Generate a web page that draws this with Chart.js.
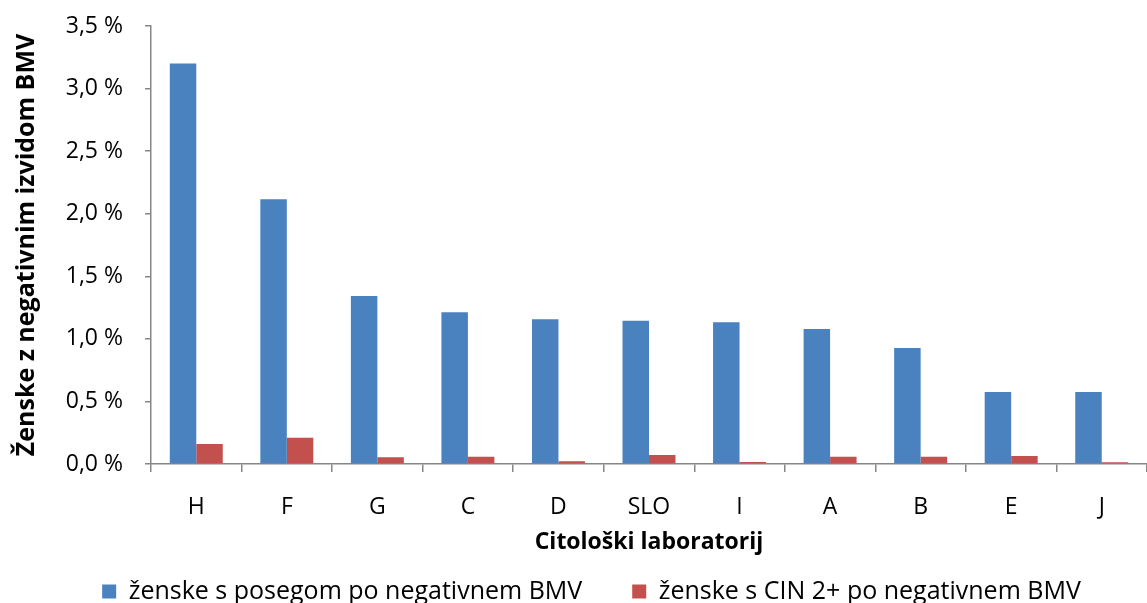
<!DOCTYPE html>
<html>
<head>
<meta charset="utf-8">
<script src="https://cdn.jsdelivr.net/npm/chart.js@4.4.1/dist/chart.umd.min.js"></script>
<style>
  html, body { margin: 0; padding: 0; background: #fff; }
  #wrap { width: 1147px; height: 603px; }
</style>
</head>
<body>
<div id="wrap"><canvas id="chart"></canvas></div>
<script>
// laboratoriji in deleži (%)
const labs = ["H", "F", "G", "C", "D", "SLO", "I", "A", "B", "E", "J"];
const posegValues = [3.20, 2.115, 1.343, 1.212, 1.156, 1.144, 1.132, 1.079, 0.927, 0.575, 0.575];
const cinValues = [0.16, 0.21, 0.054, 0.058, 0.022, 0.072, 0.016, 0.058, 0.058, 0.064, 0.014];
const yTicks = [0, 0.5, 1, 1.5, 2, 2.5, 3, 3.5];

const FONT = "'Open Sans', 'Liberation Sans', sans-serif";
const AXIS_GRAY = "#868686";
const LEGEND_PAD = 50;

// legenda: velik razmik med elementi, vendar nizka škatla
const legendShift = {
    id: "legendShift",
    afterLayout(chart) {
        const lg = chart.legend;
        if (!lg) return;
        lg.top = 579 - LEGEND_PAD;
        lg.bottom = chart.height;
        lg.left += 18;
        lg.right += 18;
    },
};

const ctx = document.getElementById("chart");

new Chart(ctx, {
    type: "bar",
    data: {
        labels: labs,
        datasets: [
            {
                label: "ženske s posegom po negativnem BMV",
                data: posegValues,
                backgroundColor: "#4A81BF",
                categoryPercentage: 0.585,
                barPercentage: 1.0,
            },
            {
                label: "ženske s CIN 2+ po negativnem BMV",
                data: cinValues,
                backgroundColor: "#C4504E",
                categoryPercentage: 0.585,
                barPercentage: 1.0,
            },
        ],
    },
    plugins: [legendShift],
    options: {
        responsive: true,
        maintainAspectRatio: false,
        animation: false,
        layout: { padding: { top: 0, right: 0, left: 0, bottom: 0 } },
        plugins: {
            tooltip: { enabled: false },
            legend: {
                position: "bottom",
                maxHeight: 47,
                labels: {
                    boxWidth: 14,
                    boxHeight: 14,
                    padding: LEGEND_PAD,
                    color: "#000",
                    font: { family: FONT, size: 25 },
                },
            },
        },
        scales: {
            x: {
                grid: {
                    display: true,
                    drawOnChartArea: false,
                    tickLength: 8,
                    color: AXIS_GRAY,
                    lineWidth: 1.5,
                },
                border: { color: AXIS_GRAY, width: 1.5 },
                ticks: {
                    color: "#000",
                    padding: 22,
                    font: { family: FONT, size: 23 },
                },
                title: {
                    display: true,
                    text: "Citološki laboratorij",
                    color: "#000",
                    padding: { top: 2, bottom: 0 },
                    font: { family: FONT, size: 23, weight: "bold" },
                },
                afterFit: (scale) => { scale.height = 92; },
            },
            y: {
                min: 0,
                max: 3.5,
                afterBuildTicks: (scale) => {
                    scale.ticks = yTicks.map((v) => ({ value: v }));
                },
                grid: {
                    display: true,
                    drawOnChartArea: false,
                    tickLength: 6,
                    color: AXIS_GRAY,
                    lineWidth: 1.5,
                },
                border: { color: AXIS_GRAY, width: 1.5 },
                ticks: {
                    color: "#000",
                    padding: 22,
                    font: { family: FONT, size: 23 },
                    callback: (v) => v.toFixed(1).replace(".", ",") + " %",
                },
                title: {
                    display: true,
                    text: "Ženske z negativnim izvidom BMV",
                    color: "#000",
                    padding: { top: 12, bottom: 0 },
                    font: { family: FONT, size: 25, weight: "bold" },
                },
                afterFit: (scale) => {
                    scale.width = 151;
                    scale.paddingTop = 26;
                    scale.paddingBottom = 10;
                },
            },
        },
    },
});
</script>
</body>
</html>
